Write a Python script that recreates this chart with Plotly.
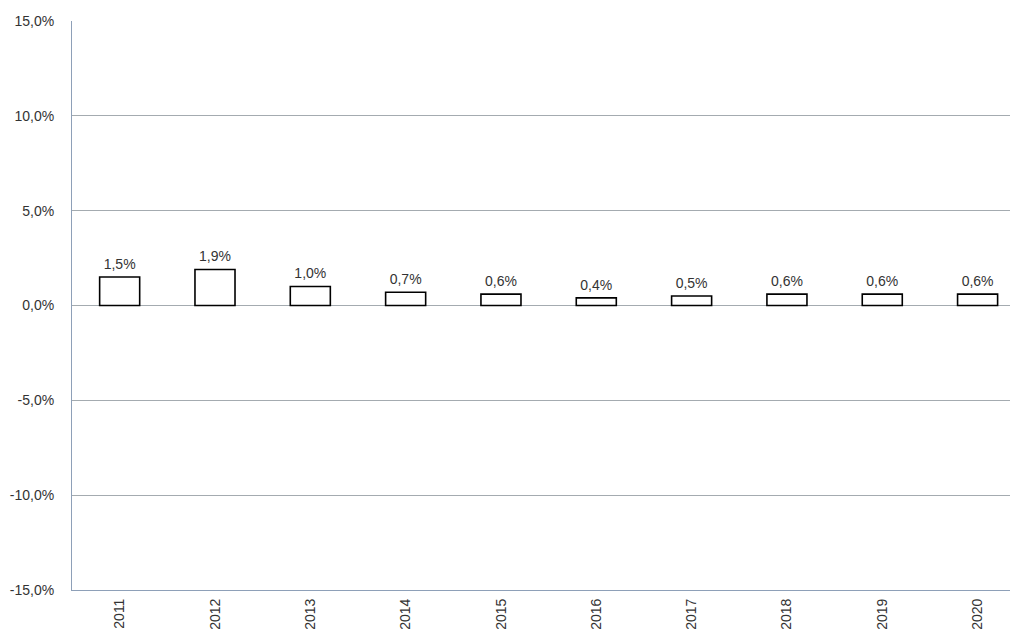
import plotly.graph_objects as go

years = ["2011", "2012", "2013", "2014", "2015", "2016", "2017", "2018", "2019", "2020"]
values = [1.5, 1.9, 1.0, 0.7, 0.6, 0.4, 0.5, 0.6, 0.6, 0.6]
labels = ["1,5%", "1,9%", "1,0%", "0,7%", "0,6%", "0,4%", "0,5%", "0,6%", "0,6%", "0,6%"]
tick_vals = [-15, -10, -5, 0, 5, 10, 15]
tick_text = ["-15,0%", "-10,0%", "-5,0%", "0,0%", "5,0%", "10,0%", "15,0%"]

FONT = "Liberation Sans, Arial"

fig = go.Figure()
fig.add_trace(go.Bar(
    x=years, y=values,
    marker=dict(color="white", line=dict(color="black", width=1.6)),
    width=0.42, hoverinfo="skip",
))
fig.add_trace(go.Scatter(
    x=years, y=values, text=labels, mode="markers+text",
    textposition="top center",
    marker=dict(size=6, opacity=0),
    textfont=dict(family=FONT, size=14, color="#333"),
    cliponaxis=False, hoverinfo="skip",
))
fig.update_layout(
    width=1016, height=634,
    margin=dict(l=72, r=6, t=21, b=44),
    paper_bgcolor="white", plot_bgcolor="white",
    showlegend=False,
    font=dict(family=FONT, size=14, color="#333"),
    xaxis=dict(type="category", range=[-0.5, 9.34], tickangle=-90,
               showline=True, linecolor="#8EA0B8", linewidth=1,
               showgrid=False, ticks="", ticklabelstandoff=2, automargin=False,
               tickfont=dict(size=14, color="#333")),
    yaxis=dict(range=[-15, 15], tickvals=tick_vals, ticktext=tick_text,
               showgrid=True, gridcolor="#A4ABB0", gridwidth=1,
               showline=True, linecolor="#8EA0B8", linewidth=1,
               zeroline=True, zerolinecolor="#A4ABB0", zerolinewidth=1,
               ticks="", ticklabelstandoff=14, automargin=False,
               tickfont=dict(size=14, color="#333")),
)
fig.write_html("out.html", config={"displayModeBar": False},
               post_script="document.body.style.margin='0';document.body.style.overflow='hidden';")
